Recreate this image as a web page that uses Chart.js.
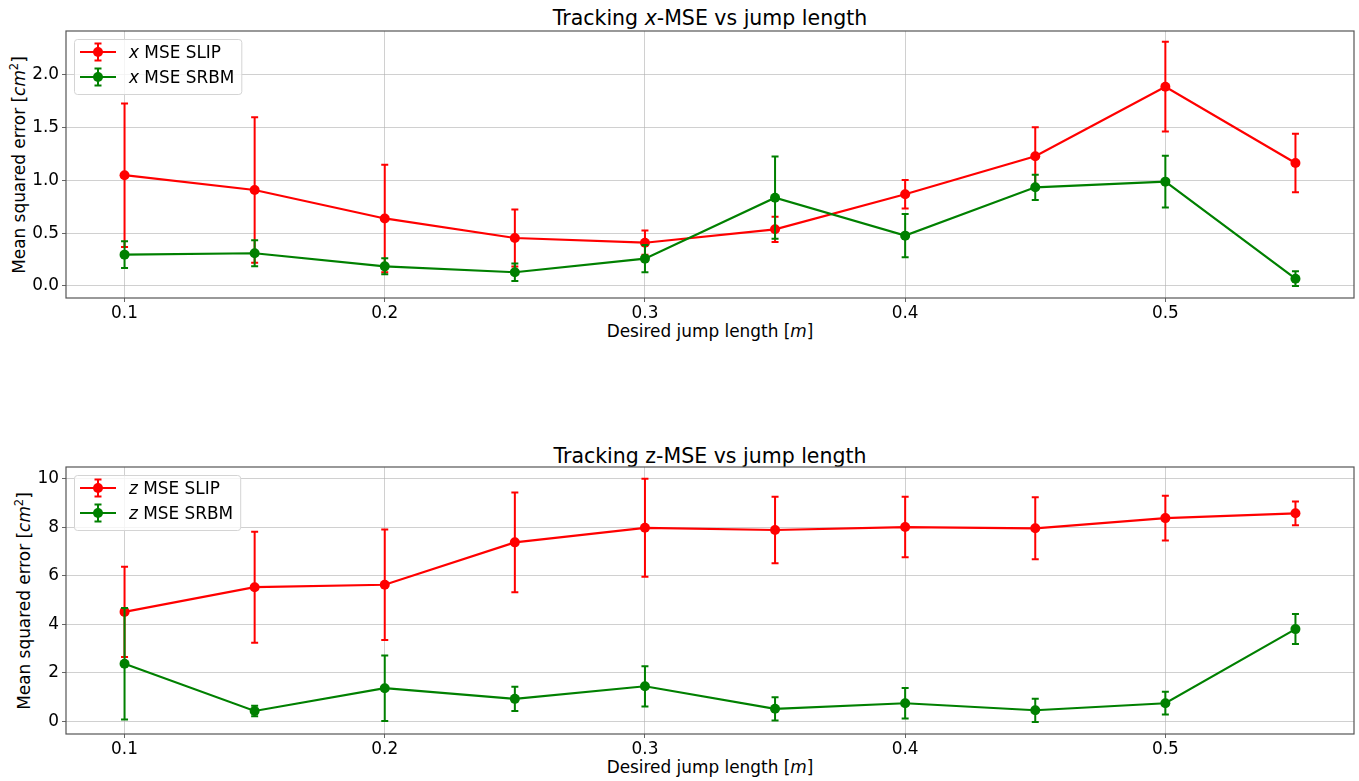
<!DOCTYPE html>
<html>
<head>
<meta charset="utf-8">
<script src="https://cdn.jsdelivr.net/npm/chart.js@4"></script>
<style>
  body { margin: 0; background: #fff; width: 1359px; height: 781px; position: relative; overflow: hidden;
         font-family: "DejaVu Sans", sans-serif; color: #000; }
  canvas { position: absolute; left: 0; }
  .title { position: absolute; left: 66px; width: 1288px; text-align: center; font-size: 20.5px; line-height: 1; white-space: nowrap; }
  .xlab { position: absolute; left: 66px; width: 1288px; text-align: center; font-size: 16.9px; line-height: 1; white-space: nowrap; }
  .ylab { position: absolute; font-size: 16.9px; line-height: 1; white-space: nowrap;
          transform: translate(-50%, -50%) rotate(-90deg); }
  sup { font-size: 11.5px; line-height: 0; }
</style>
</head>
<body>
<div class="title" style="top:7.7px">Tracking <i>x</i>-MSE vs jump length</div>
<div class="ylab" style="left:19px; top:164.5px">Mean squared error [<i>cm</i><sup>2</sup>]</div>
<div class="xlab" style="top:322.7px">Desired jump length [<i>m</i>]</div>
<canvas id="xChart" width="1359" height="345" style="top:0"></canvas>

<div class="title" style="top:445.5px">Tracking z-MSE vs jump length</div>
<div class="ylab" style="left:24px; top:600.5px">Mean squared error [<i>cm</i><sup>2</sup>]</div>
<div class="xlab" style="top:758.7px">Desired jump length [<i>m</i>]</div>
<canvas id="zChart" width="1359" height="345" style="top:436px"></canvas>

<script>
// 数据：期望跳跃长度
var jumpLengths = [0.1, 0.15, 0.2, 0.25, 0.3, 0.35, 0.4, 0.45, 0.5, 0.55];

// x 方向 MSE 及误差
var xMseSlip = [1.05, 0.91, 0.64, 0.455, 0.41, 0.537, 0.869, 1.229, 1.889, 1.166];
var xErrSlip = [0.68, 0.69, 0.51, 0.27, 0.115, 0.12, 0.135, 0.275, 0.425, 0.277];
var xMseSrbm = [0.297, 0.31, 0.186, 0.13, 0.259, 0.837, 0.477, 0.935, 0.989, 0.069];
var xErrSrbm = [0.127, 0.123, 0.076, 0.083, 0.13, 0.39, 0.205, 0.12, 0.245, 0.07];

// z 方向 MSE 及误差
var zMseSlip = [4.51, 5.53, 5.63, 7.38, 7.98, 7.89, 8.01, 7.96, 8.38, 8.58];
var zErrSlip = [1.86, 2.29, 2.28, 2.06, 2.02, 1.37, 1.25, 1.28, 0.92, 0.49];
var zMseSrbm = [2.37, 0.42, 1.36, 0.92, 1.44, 0.51, 0.74, 0.45, 0.74, 3.80];
var zErrSrbm = [2.3, 0.22, 1.35, 0.5, 0.83, 0.48, 0.63, 0.48, 0.47, 0.62];

// 刻度
var xTicks = [0.1, 0.2, 0.3, 0.4, 0.5];
var xTickLabels = ['0.1', '0.2', '0.3', '0.4', '0.5'];
var yTicksX = [0, 0.5, 1.0, 1.5, 2.0];
var yTickLabelsX = ['0.0', '0.5', '1.0', '1.5', '2.0'];
var yTicksZ = [0, 2, 4, 6, 8, 10];
var yTickLabelsZ = ['0', '2', '4', '6', '8', '10'];

var RED = '#ff0000';
var GREEN = '#008000';

Chart.defaults.font.family = '"DejaVu Sans", sans-serif';
Chart.defaults.font.size = 16.9;
Chart.defaults.color = '#000';

function points(ys) {
  return jumpLengths.map(function(x, i) { return { x: x, y: ys[i] }; });
}

// 误差棒（在每个数据集之前绘制，标记点在上面）
var errorBarPlugin = {
  id: 'errorBars',
  beforeDatasetDraw: function(chart, args) {
    var ds = chart.data.datasets[args.index];
    if (!ds.errors) return;
    var ctx = chart.ctx;
    var xs = chart.scales.x, ys = chart.scales.y;
    ctx.save();
    ctx.strokeStyle = ds.borderColor;
    ctx.lineWidth = 2;
    ds.data.forEach(function(p, i) {
      var px = xs.getPixelForValue(p.x);
      var top = ys.getPixelForValue(p.y + ds.errors[i]);
      var bot = ys.getPixelForValue(p.y - ds.errors[i]);
      ctx.beginPath();
      ctx.moveTo(px, top); ctx.lineTo(px, bot);
      ctx.moveTo(px - 3.5, top); ctx.lineTo(px + 3.5, top);
      ctx.moveTo(px - 3.5, bot); ctx.lineTo(px + 3.5, bot);
      ctx.stroke();
    });
    ctx.restore();
  }
};

// 坐标框
var framePlugin = {
  id: 'frame',
  afterDatasetsDraw: function(chart) {
    var a = chart.chartArea, ctx = chart.ctx;
    ctx.save();
    ctx.strokeStyle = '#555';
    ctx.lineWidth = 1.2;
    ctx.strokeRect(a.left, a.top, a.right - a.left, a.bottom - a.top);
    ctx.restore();
  }
};

// matplotlib 风格图例
var legendPlugin = {
  id: 'mplLegend',
  afterDraw: function(chart) {
    var ctx = chart.ctx, a = chart.chartArea;
    var items = chart.data.datasets;
    var size = 16.9;
    var normal = size + 'px "DejaVu Sans"';
    var italic = 'italic ' + size + 'px "DejaVu Sans"';
    ctx.save();
    var maxW = 0;
    items.forEach(function(ds) {
      ctx.font = italic;
      var w = ctx.measureText(ds.label.charAt(0)).width;
      ctx.font = normal;
      w += ctx.measureText(ds.label.slice(1)).width;
      if (w > maxW) maxW = w;
    });
    var bx = a.left + 8, by = a.top + 8;
    var bw = 55 + maxW + 7, bh = 55;
    ctx.beginPath();
    ctx.roundRect(bx + 0.5, by + 0.5, bw, bh, 3);
    ctx.fillStyle = 'rgba(255,255,255,0.8)';
    ctx.fill();
    ctx.strokeStyle = '#d4d4d4';
    ctx.lineWidth = 1;
    ctx.stroke();
    items.forEach(function(ds, k) {
      var ry = by + 13 + k * 25;
      var cx = bx + 24;
      ctx.strokeStyle = ds.borderColor;
      ctx.lineWidth = 2.2;
      ctx.beginPath();
      ctx.moveTo(bx + 6, ry); ctx.lineTo(bx + 42, ry);
      ctx.stroke();
      ctx.lineWidth = 2;
      ctx.beginPath();
      ctx.moveTo(cx, ry - 8.5); ctx.lineTo(cx, ry + 8.5);
      ctx.moveTo(cx - 3.5, ry - 8.5); ctx.lineTo(cx + 3.5, ry - 8.5);
      ctx.moveTo(cx - 3.5, ry + 8.5); ctx.lineTo(cx + 3.5, ry + 8.5);
      ctx.stroke();
      ctx.fillStyle = ds.borderColor;
      ctx.beginPath();
      ctx.arc(cx, ry, 5, 0, Math.PI * 2);
      ctx.fill();
      ctx.fillStyle = '#000';
      ctx.textBaseline = 'alphabetic';
      ctx.textAlign = 'left';
      var tx = bx + 55;
      ctx.font = italic;
      ctx.fillText(ds.label.charAt(0), tx, ry + 6);
      tx += ctx.measureText(ds.label.charAt(0)).width;
      ctx.font = normal;
      ctx.fillText(ds.label.slice(1), tx, ry + 6);
    });
    ctx.restore();
  }
};

function makeChart(id, labelA, ysA, errA, labelB, ysB, errB, yMin, yMax, yTicks, yLabels) {
  var ctx = document.getElementById(id).getContext('2d');
  return new Chart(ctx, {
    type: 'scatter',
    data: {
      datasets: [{
        label: labelA,
        data: points(ysA),
        errors: errA,
        showLine: true,
        borderColor: RED,
        backgroundColor: RED,
        borderWidth: 2.2,
        pointRadius: 5,
        pointBorderWidth: 0,
        order: 2
      }, {
        label: labelB,
        data: points(ysB),
        errors: errB,
        showLine: true,
        borderColor: GREEN,
        backgroundColor: GREEN,
        borderWidth: 2.2,
        pointRadius: 5,
        pointBorderWidth: 0,
        order: 1
      }]
    },
    options: {
      responsive: false,
      animation: false,
      events: [],
      layout: { autoPadding: false, padding: { left: 26, top: 31, right: 5, bottom: 17 } },
      plugins: { legend: { display: false }, tooltip: { enabled: false }, title: { display: false } },
      scales: {
        x: {
          type: 'linear',
          min: 0.0775,
          max: 0.5725,
          border: { display: false },
          grid: { color: 'rgba(176,176,176,0.6)', lineWidth: 1, tickLength: 4, tickColor: '#666' },
          ticks: {
            autoSkip: false, maxRotation: 0, padding: 1,
            callback: function(v) { var i = xTicks.indexOf(v); return i >= 0 ? xTickLabels[i] : ''; }
          },
          afterBuildTicks: function(scale) { scale.ticks = xTicks.map(function(v) { return { value: v }; }); },
          afterFit: function(scale) { scale.height = 30; }
        },
        y: {
          type: 'linear',
          min: yMin,
          max: yMax,
          border: { display: false },
          grid: { color: 'rgba(176,176,176,0.6)', lineWidth: 1, tickLength: 4, tickColor: '#666' },
          ticks: {
            autoSkip: false, padding: 3,
            callback: function(v) { var i = yTicks.indexOf(v); return i >= 0 ? yLabels[i] : ''; }
          },
          afterBuildTicks: function(scale) { scale.ticks = yTicks.map(function(v) { return { value: v }; }); },
          afterFit: function(scale) { scale.width = 40; }
        }
      }
    },
    plugins: [errorBarPlugin, framePlugin, legendPlugin]
  });
}

makeChart('xChart', 'x MSE SLIP', xMseSlip, xErrSlip, 'x MSE SRBM', xMseSrbm, xErrSrbm,
          -0.114, 2.417, yTicksX, yTickLabelsX);
makeChart('zChart', 'z MSE SLIP', zMseSlip, zErrSlip, 'z MSE SRBM', zMseSrbm, zErrSrbm,
          -0.53, 10.49, yTicksZ, yTickLabelsZ);
</script>
</body>
</html>
